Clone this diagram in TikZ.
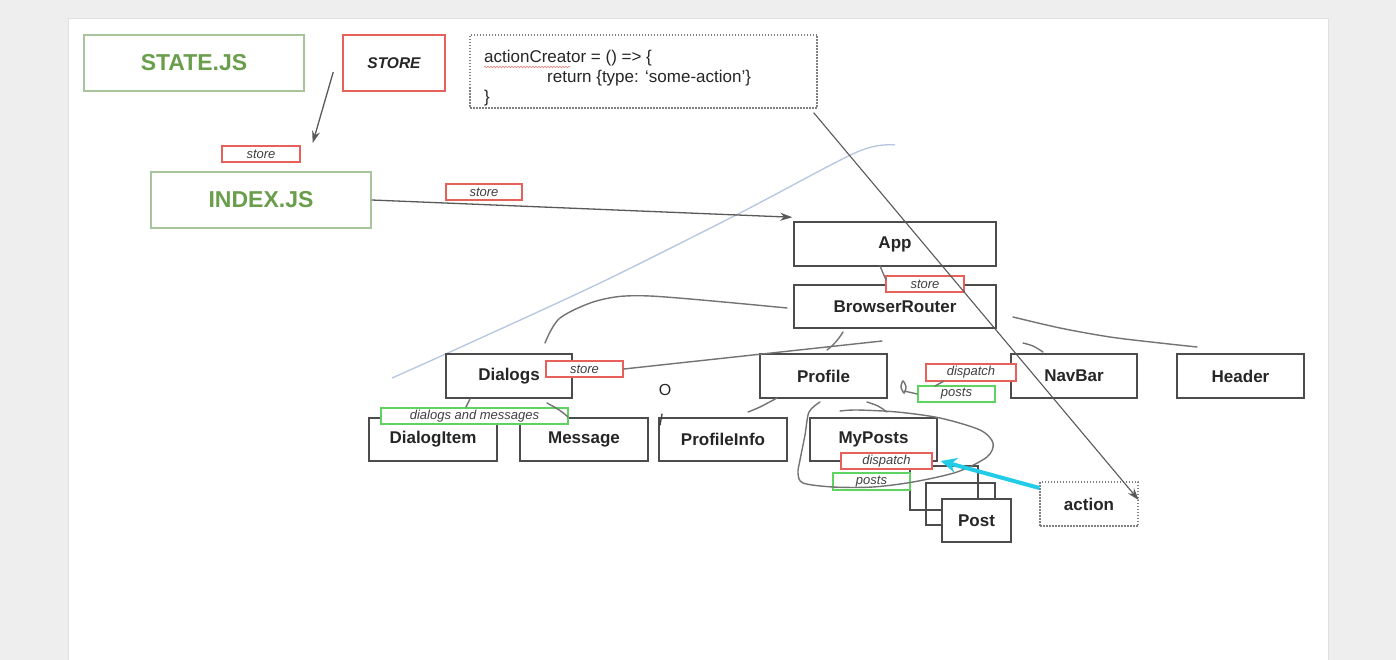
\documentclass[tikz,border=0pt]{standalone}
\usepackage{fontspec}
\setmainfont{Liberation Sans}
\usetikzlibrary{arrows,arrows.meta,positioning,decorations.pathmorphing}
\definecolor{pagegray}{HTML}{EEEEEE}
\definecolor{filegreen}{HTML}{A8C49A}
\definecolor{textgreen}{HTML}{6A9E4C}
\definecolor{tagred}{HTML}{E8605A}
\definecolor{taggreen}{HTML}{5FD35F}
\definecolor{actioncyan}{HTML}{22CCE6}
\definecolor{penblue}{HTML}{B4C6E0}
\tikzset{size/.style 2 args={minimum width=#1pt,minimum height=#2pt}}
\tikzstyle{comp}=[draw=black!70,line width=1.5pt,fill=white,inner sep=0pt,text=black!85,font=\fontsize{17}{20}\selectfont\bfseries]
\tikzstyle{jsfile}=[draw=filegreen,line width=1.5pt,inner sep=0pt,text=textgreen,font=\fontsize{23}{26}\selectfont\bfseries]
\tikzstyle{storebox}=[draw=tagred,line width=1.5pt,inner sep=0pt,text=black!85,font=\fontsize{15.5}{18}\selectfont\bfseries\itshape]
\tikzstyle{tag}=[draw=tagred,line width=1.4pt,fill=white,inner sep=0pt,text=black!75,font=\fontsize{13}{15}\selectfont\itshape]
\tikzstyle{greentag}=[tag,draw=taggreen]
\tikzstyle{dotbox}=[draw=black!50,line width=1.3pt,dash pattern=on 1.5pt off 1.5pt,inner sep=0pt]
\tikzstyle{codetext}=[inner sep=0pt,text=black!85,font=\fontsize{17}{20}\selectfont]
\tikzstyle{flow}=[-{Stealth[length=12pt,width=8pt]},draw=black!65,line width=1.3pt]
\tikzstyle{hand}=[draw=black!55,line width=1.4pt,line cap=round]

\begin{document}
\begin{tikzpicture}[x=1pt,y=-1pt]
    \useasboundingbox (0,0) rectangle (1396,660);
    \fill[pagegray] (0,0) rectangle (1396,660);
    \draw[black!12,fill=white] (68,18) rectangle (1328,664);

    % pen strokes under the boxes
    \draw[penblue,line width=1.3pt] plot[smooth] coordinates {(392,378) (450,352) (600,283) (740,213) (857,152) (895,145)};

    % files
    \node[jsfile,size={220}{56}] (state) at (194,63) {STATE.JS};
    \node[storebox,size={102}{56}] (store) at (394,63) {STORE};
    \node[jsfile,size={220}{56}] (index) at (261,200) {INDEX.JS};
    \node[tag,size={78}{16}] (storeIdx) at (261,154) {store};
    \node[tag,size={76}{16}] (storeApp) at (484,192) {store};

    % action creator
    \node[dotbox,size={347}{73}] (code) at (643.5,71.5) {};
    \node[codetext,anchor=base west] (codeA) at (484,63) {actionCreator = () => \{};
    \node[codetext,anchor=base west] (codeB) at (547,83) {return \{type: ‘some-action’\}};
    \node[codetext,anchor=base west] (codeC) at (484,103) {\}};
    \draw[tagred!80,line width=.6pt,decorate,decoration={snake,amplitude=.8pt,segment length=3pt}]
        ([shift={(0,4)}]codeA.base west) -- +(86,0);

    % components
    \node[comp,size={202}{44}] (app) at (895,244) {App};
    \node[comp,size={202}{43}] (router) at (895,306.5) {BrowserRouter};
    \node[comp,size={126}{44}] (dialogs) at (509,376) {Dialogs};
    \node[comp,size={127}{44}] (profile) at (823.5,376) {Profile};
    \node[comp,size={126}{44}] (navbar) at (1074,376) {NavBar};
    \node[comp,size={127}{44}] (header) at (1240.5,376) {Header};
    \node[comp,size={128}{43}] (dialogitem) at (433,439.5) {DialogItem};
    \node[comp,size={128}{43}] (message) at (584,439.5) {Message};
    \node[comp,size={128}{43}] (profileinfo) at (723,439.5) {ProfileInfo};
    \node[comp,size={127}{43}] (myposts) at (873.5,439.5) {MyPosts};
    \node[comp,fill=none,size={68}{44}] (postC) at (944,488) {};
    \node[comp,fill=none,size={69}{42}] (postB) at (960.5,504) {};
    \node[comp,size={69}{43}] (post) at (976.5,520.5) {Post};
    \node[dotbox,size={98}{44},text=black!85,font=\fontsize{17}{20}\selectfont\bfseries] (action) at (1089,504) {action};
    \node[inner sep=0pt,text=black!85,font=\fontsize{16}{19}\selectfont] (o) at (665,390) {O};

    % props
    \node[tag,size={78}{16}] (storeRouter) at (925,284) {store};
    \node[tag,size={77}{16}] (storeDialogs) at (584.5,369) {store};
    \node[greentag,size={187}{16}] (dm) at (474.5,416) {dialogs and messages};
    \node[tag,size={90}{17}] (dispatchProfile) at (971,372.5) {dispatch};
    \node[greentag,size={77}{16}] (postsProfile) at (956.5,394) {posts};
    \node[tag,size={91}{16}] (dispatchPosts) at (886.5,461) {dispatch};
    \node[greentag,size={77}{17}] (postsPosts) at (871.5,481.5) {posts};

    % pen strokes
    \draw[hand] plot[smooth] coordinates {(545,343) (560,318) (600,300) (650,296) (787,308)};
    \draw[hand] (843,332) to[bend left=10] (827,350);
    \draw[hand] plot[smooth] coordinates {(1023,343) (1033,346) (1043,352)};
    \draw[hand] plot[smooth] coordinates {(1013,317) (1060,328) (1110,337) (1160,343) (1197,347)};
    \draw[hand] (880,266) -- (886,280);
    \draw[hand] (storeDialogs.east) -- (882,341);
    \draw[hand] (470,399) -- (466,407);
    \draw[hand] plot[smooth] coordinates {(547,403) (556,408) (562,412) (568,417)};
    \draw[hand] plot[smooth] coordinates {(777,398) (760,407) (748,412)};
    \draw[hand] plot[smooth] coordinates {(867,402) (878,406) (887,412)};
    \draw[hand] plot[smooth cycle] coordinates {(903,381) (906,387) (904,393) (901,387)};
    \draw[hand] (904,391) -- (postsProfile.west);
    \draw[hand] (935,386) -- (944,381);
    \draw[hand,black!75] (660,425) -- (662,414);
    \draw[hand] plot[smooth] coordinates {(820,402) (809,412) (805,435) (800,460) (798,473) (803,483) (833,487) (873,487) (913,482) (957,472) (987,457) (993,443) (980,430) (940,418) (897,412) (857,410) (840,411)};

    % arrows
    \draw[flow] ([shift={(-9,9)}]store.west) -- ([shift={(12,-11)}]storeIdx.east);
    \draw[flow] (index.east) -- ([shift={(-1,-4)}]app.north west);
    \draw[flow,line width=1.1pt] ([shift={(-4,4)}]code.south east) -- ([shift={(0,-4)}]action.east);
    \draw[actioncyan,line width=4pt,-{Stealth[length=16pt,width=15pt]}] ([shift={(0,-16)}]action.west) -- ([xshift=8pt]dispatchPosts.east);
\end{tikzpicture}
\end{document}
